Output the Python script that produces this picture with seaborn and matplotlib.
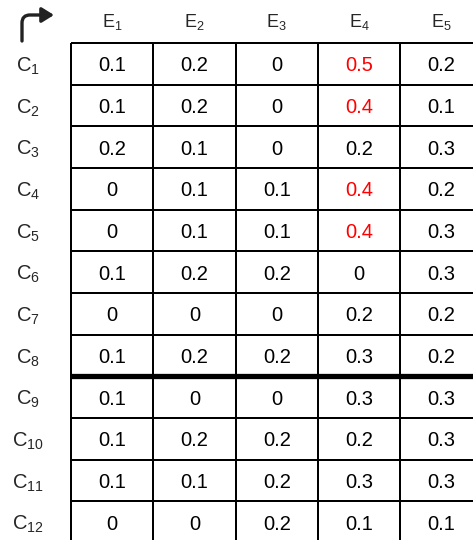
import numpy as np
import pandas as pd
import seaborn as sns
import matplotlib.pyplot as plt
from matplotlib.colors import ListedColormap

# dados da tabela
linhas = ["C1", "C2", "C3", "C4", "C5", "C6", "C7", "C8", "C9", "C10", "C11", "C12"]
colunas = ["E1", "E2", "E3", "E4", "E5"]
valores = [
    [0.1, 0.2, 0.0, 0.5, 0.2],
    [0.1, 0.2, 0.0, 0.4, 0.1],
    [0.2, 0.1, 0.0, 0.2, 0.3],
    [0.0, 0.1, 0.1, 0.4, 0.2],
    [0.0, 0.1, 0.1, 0.4, 0.3],
    [0.1, 0.2, 0.2, 0.0, 0.3],
    [0.0, 0.0, 0.0, 0.2, 0.2],
    [0.1, 0.2, 0.2, 0.3, 0.2],
    [0.1, 0.0, 0.0, 0.3, 0.3],
    [0.1, 0.2, 0.2, 0.2, 0.3],
    [0.1, 0.1, 0.2, 0.3, 0.3],
    [0.0, 0.0, 0.2, 0.1, 0.1],
]
destaques = [("C1", "E4"), ("C2", "E4"), ("C4", "E4"), ("C5", "E4")]
linha_divisoria = 8  # entre C8 e C9

sns.set_style("white")
plt.rcParams['font.family'] = ['Liberation Sans', 'DejaVu Sans']
plt.rcParams['mathtext.fontset'] = 'custom'
plt.rcParams['mathtext.rm'] = 'Liberation Sans'
plt.rcParams['mathtext.it'] = 'Liberation Sans'

df = pd.DataFrame(valores, index=linhas, columns=colunas)
rotulos = df.map(lambda v: "0" if v == 0 else f"{v:.1f}")

W, H = 473, 540
fig = plt.figure(figsize=(W / 100, H / 100), dpi=100)
ax = fig.add_axes([71 / W, -3 / H, 411.5 / W, 500 / H])

sns.heatmap(df, annot=rotulos, fmt='', cmap=ListedColormap(['white']), cbar=False,
            linewidths=1.3, linecolor='black', ax=ax,
            annot_kws={'fontsize': 14.5, 'color': 'black', 'va': 'center_baseline'})
ax.collections[0].set_clip_on(False)

# valores em vermelho
for i, nome in enumerate(linhas):
    for j, col in enumerate(colunas):
        if (nome, col) in destaques:
            ax.texts[i * len(colunas) + j].set_color('red')

# linha grossa separando C8 de C9
ax.plot([0, len(colunas)], [linha_divisoria, linha_divisoria], color='black',
        lw=3.8, zorder=10, clip_on=False, solid_capstyle='butt')

ax.xaxis.tick_top()
ax.set_xticklabels([r"$\mathregular{E_{%s}}$" % c[1:] for c in colunas], fontsize=13)
ax.set_yticklabels([r"$\mathregular{C_{%s}}$" % c[1:] for c in linhas], fontsize=14.5, rotation=0)
ax.tick_params(axis='x', length=0, pad=15)
ax.tick_params(axis='y', length=0, pad=31)
for t in ax.get_xticklabels():
    t.set_verticalalignment('center')
for t in ax.get_yticklabels():
    t.set_horizontalalignment('center')
    t.set_verticalalignment('center_baseline')
ax.set_xlabel('')
ax.set_ylabel('')

# seta curva no canto
ax.annotate('', xy=(54, H - 15), xytext=(22, H - 41), xycoords='figure pixels',
            textcoords='figure pixels',
            arrowprops=dict(arrowstyle='-|>,head_length=0.45,head_width=0.28',
                            connectionstyle='angle,angleA=90,angleB=0,rad=8',
                            lw=2.4, color='#222222', shrinkA=0, shrinkB=0,
                            mutation_scale=16),
            annotation_clip=False)

plt.savefig('out.png', dpi=100)
